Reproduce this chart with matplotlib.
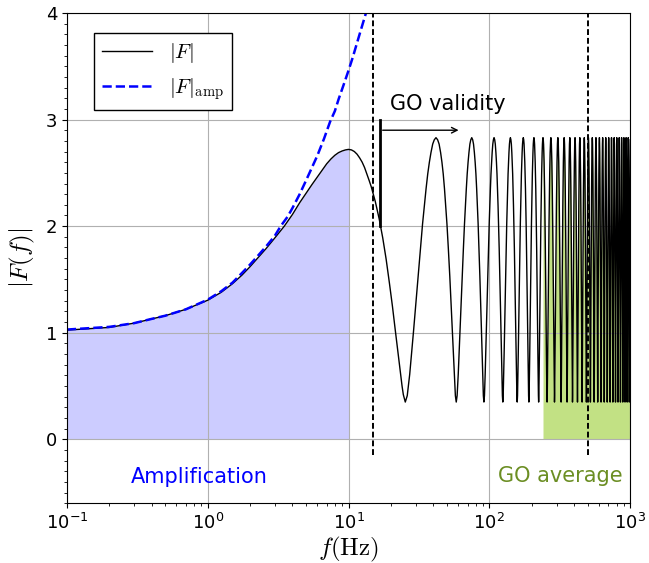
import numpy as np
import matplotlib
matplotlib.use("Agg")
import matplotlib.pyplot as plt
from matplotlib.ticker import MultipleLocator

plt.rcParams["mathtext.fontset"] = "cm"

# |F| below the first GO trough (wave-optics part)
f_low = [0.1, 0.15, 0.2, 0.3, 0.4, 0.5, 0.7, 1.0, 1.25, 1.5, 1.75, 2.0, 2.3,
         2.6, 3.0, 3.5, 4.0, 4.5, 5.0, 5.5, 6.0, 6.5, 7.0, 7.5, 8.0, 8.5,
         9.0, 9.5, 10.0, 10.5, 11.0, 11.5, 12.0, 12.5, 13.0, 13.5, 14.0,
         14.5, 15.0, 15.5, 16.0, 16.5, 17.0, 17.5, 18.0, 18.5, 19.0, 19.5,
         20.0, 20.5, 21.0, 21.5, 22.0, 22.5, 23.0, 23.5, 24.0, 24.5]
F_low = [1.025, 1.04, 1.05, 1.09, 1.13, 1.16, 1.22, 1.305, 1.38, 1.46, 1.54,
         1.62, 1.71, 1.79, 1.89, 2.00, 2.11, 2.22, 2.31, 2.39, 2.46, 2.525,
         2.585, 2.63, 2.665, 2.69, 2.705, 2.715, 2.72, 2.715, 2.70, 2.675,
         2.64, 2.60, 2.55, 2.49, 2.43, 2.37, 2.30, 2.23, 2.15, 2.07, 1.98,
         1.89, 1.79, 1.69, 1.58, 1.47, 1.36, 1.25, 1.13, 1.02, 0.91, 0.80,
         0.69, 0.59, 0.50, 0.42]

# oscillation troughs / peaks (Hz), read and continued at the visible spacing
troughs = [25.3, 58.2, 91.5, 124.6, 157.7, 190.8, 223.9, 257.0, 290.1, 323.2,
           356.3, 389.4, 422.5, 455.6, 488.7, 521.8, 554.9, 588.0, 621.1,
           654.2, 687.3, 720.4, 753.5, 786.6, 819.7, 852.8, 885.9, 919.0,
           952.1, 985.2, 1018.3]
peaks = [41.8, 75.0, 108.0, 141.1, 174.2, 207.3, 240.4, 273.5, 306.6, 339.7,
         372.8, 405.9, 439.0, 472.1, 505.2, 538.3, 571.4, 604.5, 637.6, 670.7,
         703.8, 736.9, 770.0, 803.1, 836.2, 869.3, 902.4, 935.5, 968.6,
         1001.7]
# shape of one trough -> peak half cycle (fraction of the way, |F| level)
rise_frac = [0.0, 0.05, 0.115, 0.165, 0.22, 0.29, 0.355, 0.43, 0.5, 0.56,
             0.62, 0.68, 0.74, 0.80, 0.867, 0.93, 1.0]
rise_level = [0.35, 0.41, 0.61, 0.80, 1.01, 1.28, 1.53, 1.79, 2.02, 2.19,
              2.35, 2.49, 2.60, 2.69, 2.77, 2.81, 2.83]

# amplification-only curve
f_amp = [0.1, 0.2, 0.3, 0.4, 0.5, 0.7, 1.0, 1.25, 1.5, 1.75, 2.0, 2.3, 2.6,
         3.0, 3.3, 3.7, 4.0, 4.5, 5.0, 5.5, 6.0, 6.7, 7.4, 8.0, 8.5, 9.2,
         10.0, 10.7, 11.5, 12.3, 13.1, 13.5]
F_amp = [1.03, 1.055, 1.09, 1.13, 1.16, 1.22, 1.31, 1.39, 1.47, 1.56, 1.64,
         1.73, 1.81, 1.91, 2.00, 2.09, 2.17, 2.30, 2.43, 2.55, 2.66, 2.82,
         2.98, 3.08, 3.19, 3.32, 3.46, 3.58, 3.72, 3.85, 3.97, 4.03]

f_go, f_avg = 15.0, 500.0

# assemble the full |F| line
f_all = list(f_low)
F_all = list(F_low)
for i, p in enumerate(peaks):
    t0, t1 = troughs[i], troughs[i + 1]
    for fr, lv in zip(rise_frac, rise_level):
        f_all.append(t0 + fr * (p - t0))
        F_all.append(lv)
    for fr, lv in zip(rise_frac[-2:0:-1], rise_level[-2:0:-1]):
        f_all.append(t1 - fr * (t1 - p))
        F_all.append(lv)
f_all = np.array(f_all)
F_all = np.array(F_all)

fig, ax = plt.subplots(figsize=(6.49, 5.63), dpi=100)
fig.subplots_adjust(left=0.103, right=0.971, top=0.977, bottom=0.106)

m = f_all <= 10
ax.fill_between(f_all[m], 0, F_all[m], color="blue", alpha=0.2, lw=0)
m = f_all >= 240
ax.fill_between(f_all[m], 0, F_all[m], color="yellowgreen", alpha=0.6, lw=0)

ax.plot(f_all, F_all, color="black", lw=1, label=r"$|F|$")
ax.plot(f_amp, F_amp, color="blue", ls="--", lw=1.8, label=r"$|F|_{\rm amp}$")

ax.plot([f_go, f_go], [-0.15, 4], color="black", ls=(0, (3, 1.5)), lw=1.4)
ax.plot([f_avg, f_avg], [-0.15, 4], color="black", ls=(0, (3, 1.5)), lw=1.4)

ax.plot([16.7, 16.7], [2.0, 3.0], color="black", lw=2)
ax.annotate("", xy=(63.3, 2.9), xytext=(16.7, 2.9),
            arrowprops=dict(arrowstyle="->", color="black", lw=1))
ax.text(19.8, 3.09, "GO validity", fontsize=15)
ax.text(0.874, -0.41, "Amplification", color="blue", fontsize=15, ha="center")
ax.text(320, -0.40, "GO average", color="olivedrab", fontsize=15, ha="center")

ax.set_xscale("log")
ax.set_xlim(0.1, 1000)
ax.set_ylim(-0.6, 4)
ax.yaxis.set_major_locator(MultipleLocator(1))
ax.yaxis.set_minor_locator(MultipleLocator(0.1))
ax.tick_params(labelsize=13)
ax.grid(True, which="major")

ax.set_xlabel(r"$f(\mathrm{Hz})$", fontsize=18, labelpad=1)
ax.set_ylabel(r"$|F(f)|$", fontsize=18, labelpad=6)

leg = ax.legend(loc="upper left", bbox_to_anchor=(0.048, 0.959),
                borderaxespad=0, fontsize=15, fancybox=False,
                edgecolor="black", framealpha=1, handlelength=2.4)
leg.get_frame().set_linewidth(1)

plt.savefig("out.png", dpi=100)
